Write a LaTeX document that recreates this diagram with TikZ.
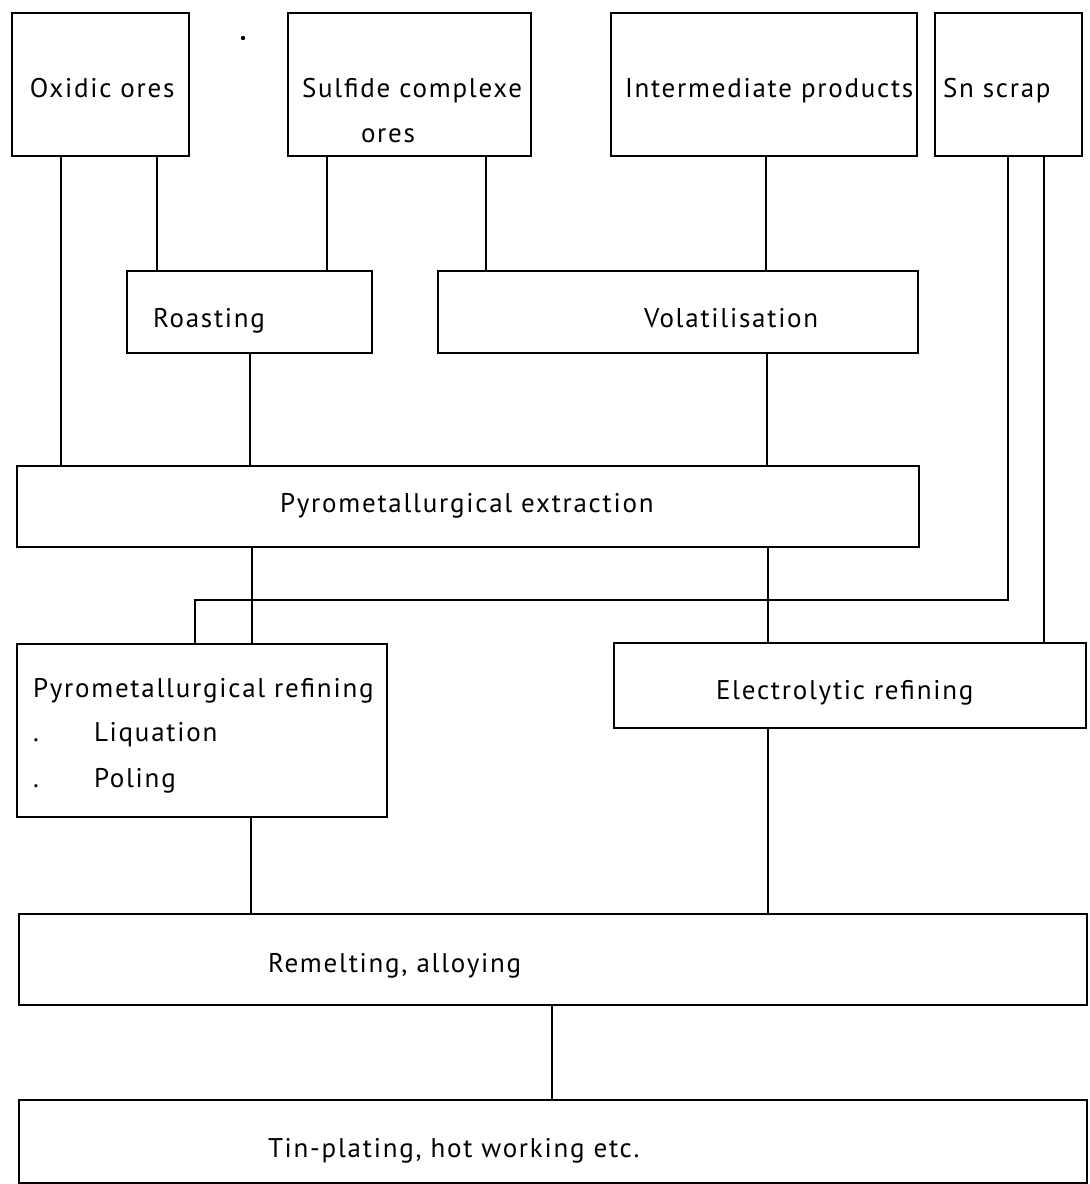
\documentclass[tikz,border=0pt]{standalone}
\usepackage{fontspec}
\setmainfont{PT Sans}[LetterSpace=6.5]
\begin{document}
\begin{tikzpicture}[x=0.5pt,y=-0.5pt,
  box/.style={draw, line width=0.8pt, inner sep=0pt, outer sep=0pt, anchor=north west},
  lbl/.style={anchor=base west, inner sep=0pt, outer sep=0pt, font=\fontsize{13.5}{16}\selectfont},
  conn/.style={line width=0.8pt}]
\useasboundingbox (0,0) rectangle (1089,1184);
\newcommand\mkbox[5]{\node[box, minimum width={(#4-#2)*0.5pt}, minimum height={(#5-#3)*0.5pt}] (#1) at (#2,#3) {};}
% boxes
\mkbox{ox}{12}{13}{189}{156}
\mkbox{sul}{288}{13}{531}{156}
\mkbox{inter}{611}{13}{917}{156}
\mkbox{sn}{935}{13}{1082}{156}
\mkbox{roast}{127}{271}{372}{353}
\mkbox{vol}{438}{271}{918}{353}
\mkbox{ext}{17}{466}{919}{547}
\mkbox{ref}{17}{644}{387}{817}
\mkbox{ele}{614}{643}{1086}{728}
\mkbox{rem}{19}{914}{1087}{1005}
\mkbox{tin}{19}{1100}{1087}{1183}
% labels
\node[lbl] (t-ox) at (30,97) {Oxidic ores};
\node[lbl] (t-sul1) at (302,97) {Sulfide complexe};
\node[lbl] (t-sul2) at (361,142) {ores};
\node[lbl] (t-int) at (625,97) {Intermediate products};
\node[lbl] (t-sn) at (943,97) {Sn scrap};
\node[lbl] (t-roast) at (153,327) {Roasting};
\node[lbl] (t-vol) at (644,327) {Volatilisation};
\node[lbl] (t-ext) at (280,512) {Pyrometallurgical extraction};
\node[lbl] (t-ref) at (33,697) {Pyrometallurgical refining};
\node[lbl] (t-b1) at (33,741) {.};
\node[lbl] (t-liq) at (94,741) {Liquation};
\node[lbl] (t-b2) at (33,787) {.};
\node[lbl] (t-pol) at (94,787) {Poling};
\node[lbl] (t-ele) at (716,699) {Electrolytic refining};
\node[lbl] (t-rem) at (268,972) {Remelting, alloying};
\node[lbl] (t-tin) at (268,1157) {Tin-plating, hot working etc.};
% stray dot
\fill (243,38) circle (2.2);
% connectors
\draw[conn] (61,0 |- ox.south) -- (61,0 |- ext.north);
\draw[conn] (157,0 |- ox.south) -- (157,0 |- roast.north);
\draw[conn] (327,0 |- sul.south) -- (327,0 |- roast.north);
\draw[conn] (486,0 |- sul.south) -- (486,0 |- vol.north);
\draw[conn] (766,0 |- inter.south) -- (766,0 |- vol.north);
\draw[conn] (250,0 |- roast.south) -- (250,0 |- ext.north);
\draw[conn] (767,0 |- vol.south) -- (767,0 |- ext.north);
\draw[conn] (252,0 |- ext.south) -- (252,0 |- ref.north);
\draw[conn] (768,0 |- ext.south) -- (768,0 |- ele.north);
\coordinate (bend) at (195,600);
\draw[conn] (1008,0 |- sn.south) |- (bend) -- (195,0 |- ref.north);
\draw[conn] (1044,0 |- sn.south) -- (1044,0 |- ele.north);
\draw[conn] (251,0 |- ref.south) -- (251,0 |- rem.north);
\draw[conn] (768,0 |- ele.south) -- (768,0 |- rem.north);
\draw[conn] (552,0 |- rem.south) -- (552,0 |- tin.north);
\end{tikzpicture}
\end{document}
